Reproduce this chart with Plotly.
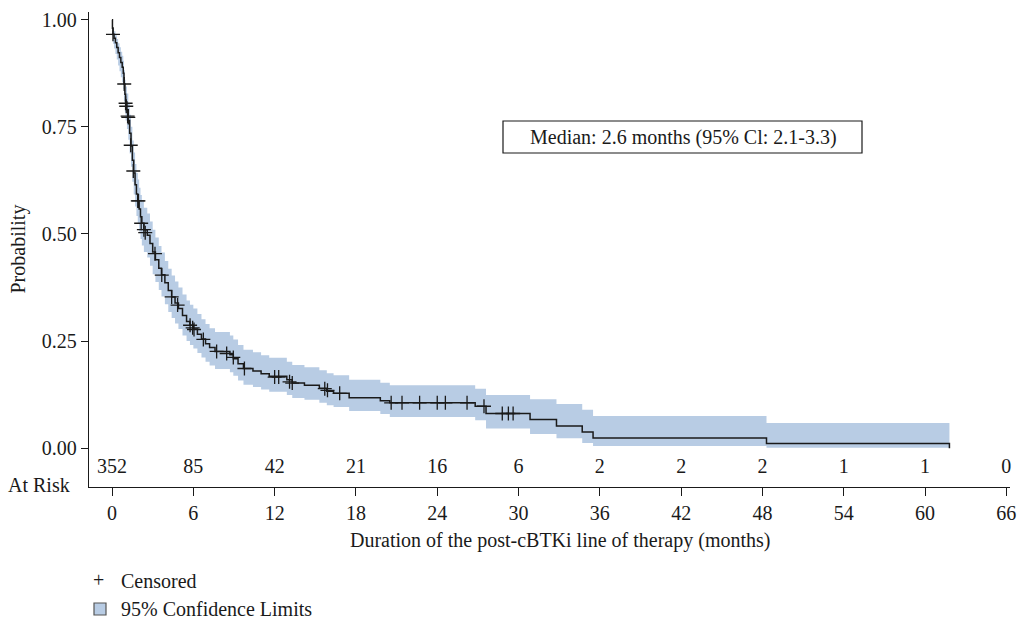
import plotly.graph_objects as go

# ---------------- data ----------------
km_time = [0.00, 0.03, 0.07, 0.15, 0.25, 0.35, 0.45, 0.55, 0.65, 0.75, 0.83, 0.88, 0.95,
           1.00, 1.10, 1.20, 1.30, 1.40, 1.50, 1.60, 1.70, 1.80, 1.90, 2.00, 2.10, 2.20,
           2.35, 2.60, 2.80, 3.00, 3.20, 3.45, 3.65, 3.90, 4.15, 4.40, 4.65, 4.90, 5.20,
           5.50, 5.75, 6.00, 6.30, 6.60, 6.90, 7.20, 7.60, 8.70, 8.95, 9.30, 9.70, 10.40,
           11.00, 11.60, 12.90, 13.30, 14.20, 15.30, 15.85, 16.35, 17.50, 19.80, 20.50,
           26.80, 27.60, 30.85, 32.80, 34.70, 35.50, 48.30, 61.80]
km_surv = [1.000, 0.980, 0.966, 0.957, 0.946, 0.935, 0.923, 0.912, 0.900, 0.889, 0.875, 0.850, 0.826,
           0.808, 0.790, 0.765, 0.735, 0.705, 0.672, 0.642, 0.615, 0.593, 0.577, 0.558, 0.540, 0.525,
           0.510, 0.497, 0.478, 0.458, 0.440, 0.420, 0.405, 0.386, 0.368, 0.353, 0.339, 0.326, 0.310,
           0.296, 0.287, 0.278, 0.266, 0.255, 0.244, 0.235, 0.226, 0.218, 0.209, 0.197, 0.186, 0.180,
           0.174, 0.168, 0.160, 0.152, 0.147, 0.140, 0.133, 0.128, 0.118, 0.111, 0.106,
           0.098, 0.081, 0.067, 0.052, 0.038, 0.024, 0.011, 0.000]
ci_lower = [1.000, 0.962, 0.944, 0.933, 0.920, 0.907, 0.893, 0.880, 0.866, 0.854, 0.838, 0.810, 0.784,
            0.765, 0.745, 0.720, 0.688, 0.657, 0.622, 0.592, 0.564, 0.542, 0.525, 0.506, 0.488, 0.473,
            0.458, 0.445, 0.426, 0.406, 0.388, 0.369, 0.354, 0.336, 0.318, 0.304, 0.291, 0.278, 0.263,
            0.250, 0.241, 0.233, 0.222, 0.212, 0.202, 0.193, 0.185, 0.177, 0.169, 0.158, 0.148, 0.143,
            0.137, 0.132, 0.124, 0.117, 0.113, 0.106, 0.100, 0.096, 0.087, 0.080, 0.073,
            0.065, 0.046, 0.033, 0.023, 0.012, 0.005, 0.001, 0.001]
ci_upper = [1.000, 0.990, 0.980, 0.973, 0.964, 0.955, 0.945, 0.936, 0.925, 0.916, 0.904, 0.882, 0.860,
            0.844, 0.828, 0.806, 0.778, 0.750, 0.718, 0.690, 0.663, 0.642, 0.627, 0.608, 0.591, 0.576,
            0.561, 0.548, 0.529, 0.510, 0.492, 0.472, 0.457, 0.437, 0.419, 0.403, 0.389, 0.375, 0.359,
            0.345, 0.335, 0.326, 0.313, 0.301, 0.290, 0.280, 0.271, 0.263, 0.254, 0.241, 0.230, 0.224,
            0.217, 0.211, 0.202, 0.194, 0.189, 0.182, 0.175, 0.170, 0.160, 0.153, 0.147,
            0.139, 0.124, 0.114, 0.103, 0.090, 0.075, 0.059, 0.059]

cens_time = [0.07, 0.90, 1.00, 1.05, 1.15, 1.20, 1.38, 1.57, 1.90, 1.95, 2.15, 2.35, 2.45,
             3.17, 3.67, 4.40, 4.84, 5.76, 5.95, 6.05, 6.74, 7.72, 8.46, 8.95, 9.77,
             12.0, 12.3, 13.1, 13.3, 15.7, 15.9, 16.8, 20.6, 21.4, 22.7, 24.0, 24.6, 26.2,
             27.45, 28.8, 29.25, 29.6]
cens_surv = [0.966, 0.850, 0.805, 0.798, 0.775, 0.772, 0.707, 0.647, 0.577, 0.577, 0.525, 0.510, 0.503,
             0.454, 0.404, 0.353, 0.334, 0.287, 0.281, 0.277, 0.254, 0.226, 0.221, 0.212, 0.186,
             0.166, 0.166, 0.155, 0.152, 0.139, 0.135, 0.128, 0.106, 0.106, 0.106, 0.106, 0.106, 0.106,
             0.098, 0.081, 0.081, 0.081]

risk_time = [0, 6, 12, 18, 24, 30, 36, 42, 48, 54, 60, 66]
risk_n = [352, 85, 42, 21, 16, 6, 2, 2, 2, 1, 1, 0]

x_ticks = [0, 6, 12, 18, 24, 30, 36, 42, 48, 54, 60, 66]
y_ticks = [0.0, 0.25, 0.5, 0.75, 1.0]
y_tick_labels = ["0.00", "0.25", "0.50", "0.75", "1.00"]

median_text = "Median: 2.6 months (95% Cl: 2.1-3.3)"
x_title = "Duration of the post-cBTKi line of therapy (months)"
y_title = "Probability"

# ---------------- style ----------------
FONT = "Liberation Serif"
INK = "#1a1a1a"
BAND = "#b8cce4"
W, H = 1018, 621
ML, MR, MT, MB = 89, 8, 12, 134
PW, PH = W - ML - MR, H - MT - MB


def px(xp):
    return (xp - ML) / PW


def py(yp):
    return (H - MB - yp) / PH


fig = go.Figure()

fig.add_trace(go.Scatter(x=km_time, y=ci_upper, mode="lines", line=dict(width=0, shape="hv"),
                         hoverinfo="skip", showlegend=False))
fig.add_trace(go.Scatter(x=km_time, y=ci_lower, mode="lines", line=dict(width=0, shape="hv"),
                         fill="tonexty", fillcolor=BAND, hoverinfo="skip", showlegend=False))
fig.add_trace(go.Scatter(x=km_time, y=km_surv, mode="lines",
                         line=dict(color=INK, width=1.5, shape="hv"), showlegend=False))
fig.add_trace(go.Scatter(x=cens_time, y=cens_surv, mode="markers",
                         marker=dict(symbol="cross-thin", size=10, color=INK,
                                     line=dict(width=1.3, color=INK)), showlegend=False))
fig.add_trace(go.Scatter(x=risk_time, y=[-0.047] * len(risk_time), mode="text",
                         text=[str(v) for v in risk_n], cliponaxis=False,
                         textfont=dict(family=FONT, size=20, color=INK), showlegend=False))

annotations = [
    dict(text=x_title, x=px(560), y=py(540), xref="paper", yref="paper",
         xanchor="center", yanchor="middle", showarrow=False),
    dict(text="At Risk", x=px(72), y=py(485), xref="paper", yref="paper",
         xanchor="right", yanchor="middle", showarrow=False),
    dict(text="+", x=px(98), y=py(580), xref="paper", yref="paper",
         xanchor="center", yanchor="middle", showarrow=False),
    dict(text="Censored", x=px(119), y=py(581), xref="paper", yref="paper",
         xanchor="left", yanchor="middle", showarrow=False),
    dict(text="95% Confidence Limits", x=px(119), y=py(609), xref="paper", yref="paper",
         xanchor="left", yanchor="middle", showarrow=False),
    dict(text=median_text, x=px(683), y=py(137), xref="paper", yref="paper",
         xanchor="center", yanchor="middle", showarrow=False),
    dict(text=y_title, x=px(18), y=0.5, xref="paper", yref="paper", textangle=-90,
         xanchor="center", yanchor="middle", showarrow=False),
]
for a in annotations:
    a["font"] = dict(family=FONT, size=20, color=INK)

shapes = [
    dict(type="rect", xref="paper", yref="paper", x0=px(503), x1=px(862), y0=py(153), y1=py(121),
         line=dict(color=INK, width=1.2), fillcolor="rgba(0,0,0,0)"),
    dict(type="rect", xref="paper", yref="paper", x0=px(94), x1=px(106), y0=py(615), y1=py(603),
         line=dict(color="#555555", width=1.2), fillcolor=BAND),
]

fig.update_layout(
    width=W, height=H,
    margin=dict(l=ML, r=MR, t=MT, b=MB, autoexpand=False),
    paper_bgcolor="white", plot_bgcolor="white",
    font=dict(family=FONT, size=20, color=INK),
    annotations=annotations, shapes=shapes,
    xaxis=dict(range=[-1.70, 66.27], tickvals=x_ticks, ticks="outside", ticklen=8,
               tickwidth=1.3, tickcolor=INK, showline=True, linecolor=INK, linewidth=1.3,
               showgrid=False, zeroline=False, automargin=False,
               tickfont=dict(family=FONT, size=20, color=INK)),
    yaxis=dict(range=[-0.0905, 1.018], tickvals=y_ticks, ticktext=y_tick_labels,
               ticks="outside", ticklen=7, tickwidth=1.3, tickcolor=INK, showline=True,
               linecolor=INK, linewidth=1.3, showgrid=False, zeroline=False, automargin=False,
               tickfont=dict(family=FONT, size=20, color=INK)),
)

fig.write_html("out.html", config={"displayModeBar": False},
               post_script="document.body.style.margin='0';")
